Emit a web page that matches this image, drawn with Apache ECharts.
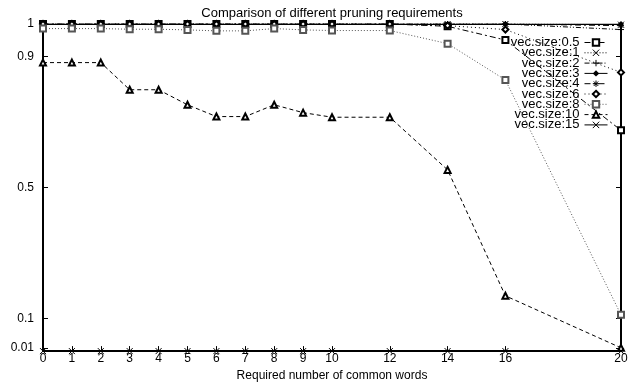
<!DOCTYPE html>
<html>
<head>
<meta charset="utf-8">
<script src="https://cdn.jsdelivr.net/npm/echarts@6/dist/echarts.min.js"></script>
<style>
html,body{margin:0;padding:0;background:#fff;}
#chart{width:631px;height:387px;}
</style>
</head>
<body>
<div id="chart"></div>
<script>
var xValues = [0, 1, 2, 3, 4, 5, 6, 7, 8, 9, 10, 12, 14, 16, 20];
var xTicks = [0, 1, 2, 3, 4, 5, 6, 7, 8, 9, 10, 12, 14, 16, 20];
var yTicks = [0.01, 0.1, 0.5, 0.9, 1];

var names = ['vec.size:0.5', 'vec.size:1', 'vec.size:2', 'vec.size:3', 'vec.size:4', 'vec.size:6', 'vec.size:8', 'vec.size:10', 'vec.size:15'];

var vec05 = [1, 1, 1, 1, 1, 1, 1, 1, 1, 1, 1, 1, 0.993, 0.951, 0.675];
var vec1  = [1, 1, 1, 1, 1, 1, 1, 1, 1, 1, 1, 1, 1, 1, 0.998];
var vec2  = [1, 1, 1, 1, 1, 1, 1, 1, 1, 1, 1, 1, 1, 1, 0.983];
var vec3  = [1, 1, 1, 1, 1, 1, 1, 1, 1, 1, 1, 1, 1, 1, 1];
var vec4  = [1, 1, 1, 1, 1, 1, 1, 1, 1, 1, 1, 1, 1, 1, 0.995];
var vec6  = [1, 1, 1, 1, 1, 1, 1, 1, 1, 1, 1, 1, 0.995, 0.983, 0.852];
var vec8  = [0.986, 0.986, 0.986, 0.984, 0.984, 0.982, 0.979, 0.979, 0.986, 0.982, 0.98, 0.98, 0.94, 0.829, 0.111];
var vec10 = [0.882, 0.882, 0.882, 0.799, 0.799, 0.753, 0.717, 0.717, 0.753, 0.729, 0.715, 0.715, 0.554, 0.169, 0.01];
var vec15 = [0, 0, 0, 0, 0, 0, 0, 0, 0, 0, 0, 0, 0, 0, 0];

var seriesValues = [vec05, vec1, vec2, vec3, vec4, vec6, vec8, vec10, vec15];

var CROSS = 'path://M0,0L10,10M10,0L0,10';
var PLUS = 'path://M5,0L5,10M0,5L10,5';
var STAR = 'path://M5,0L5,10M0,5L10,5M1.5,1.5L8.5,8.5M8.5,1.5L1.5,8.5';

var styles = [
  {symbol: 'emptyRect', size: 6, dash: [6, 3, 2, 3], color: '#000', stroke: false},
  {symbol: CROSS, size: 6, dash: [1, 2], color: '#000', stroke: true},
  {symbol: PLUS, size: 6, dash: [5, 2, 1, 2, 1, 2], color: '#000', stroke: true},
  {symbol: 'diamond', size: 6, dash: 'solid', color: '#000', stroke: false},
  {symbol: STAR, size: 6, dash: [6, 3, 2, 3], color: '#000', stroke: true},
  {symbol: 'emptyDiamond', size: 6, dash: [1, 3], color: '#000', stroke: false},
  {symbol: 'emptyRect', size: 6, dash: [1, 2], color: '#555', stroke: false},
  {symbol: 'emptyTriangle', size: 6, dash: [4, 3], color: '#000', stroke: false},
  {symbol: CROSS, size: 6, dash: 'solid', color: '#000', stroke: true}
];

var series = names.map(function (n, i) {
  var st = styles[i];
  var item = {color: st.color, borderWidth: 1};
  if (st.stroke) { item.borderColor = st.color; }
  return {
    name: n,
    type: 'line',
    data: xValues.map(function (x, j) { return [x, seriesValues[i][j]]; }),
    symbol: st.symbol,
    symbolSize: st.size,
    showSymbol: true,
    showAllSymbol: true,
    lineStyle: {color: st.color, width: 1, type: st.dash},
    itemStyle: item,
    emphasis: {disabled: true},
    z: 2 + i
  };
});

var FONT = '"Liberation Sans", Arial, Helvetica, sans-serif';

var chart = echarts.init(document.getElementById('chart'), null, {renderer: 'canvas'});
chart.setOption({
  animation: false,
  backgroundColor: '#fff',
  textStyle: {fontFamily: FONT, color: '#000'},
  title: {
    text: 'Comparison of different pruning requirements',
    left: 332,
    top: 7,
    padding: 0,
    textAlign: 'center',
    textStyle: {fontFamily: FONT, fontSize: 13, fontWeight: 'normal', color: '#000'}
  },
  legend: {
    orient: 'vertical',
    right: 23,
    top: 36,
    align: 'right',
    itemWidth: 23,
    itemHeight: 8,
    itemGap: -2.7,
    padding: 0,
    lineStyle: {width: 1},
    itemStyle: {borderWidth: 1},
    textStyle: {fontFamily: FONT, fontSize: 13, color: '#000', lineHeight: 10},
    data: names
  },
  grid: {left: 43, right: 10, top: 24, bottom: 27, containLabel: false},
  xAxis: [{
    type: 'value',
    min: 0, max: 20,
    name: 'Required number of common words',
    nameLocation: 'middle',
    nameGap: 14,
    nameTextStyle: {fontFamily: FONT, fontSize: 12, color: '#000'},
    axisLine: {show: true, onZero: false, lineStyle: {color: '#000', width: 2}},
    axisTick: {show: true, inside: true, length: 5, customValues: xTicks, lineStyle: {color: '#000'}},
    axisLabel: {customValues: xTicks, margin: 2, fontFamily: FONT, fontSize: 12, color: '#000'},
    splitLine: {show: false}
  }, {
    type: 'value',
    position: 'top',
    min: 0, max: 20,
    axisLine: {show: true, onZero: false, lineStyle: {color: '#000', width: 1}},
    axisTick: {show: true, inside: true, length: 5, customValues: xTicks, lineStyle: {color: '#000'}},
    axisLabel: {show: false},
    splitLine: {show: false}
  }],
  yAxis: [{
    type: 'value',
    min: 0, max: 1,
    axisLine: {show: true, onZero: false, lineStyle: {color: '#000', width: 2}},
    axisTick: {show: true, inside: true, length: 5, customValues: yTicks, lineStyle: {color: '#000'}},
    axisLabel: {customValues: yTicks, margin: 9, fontFamily: FONT, fontSize: 12, color: '#000'},
    splitLine: {show: false}
  }, {
    type: 'value',
    position: 'right',
    min: 0, max: 1,
    axisLine: {show: true, onZero: false, lineStyle: {color: '#000', width: 2}},
    axisTick: {show: true, inside: true, length: 5, customValues: yTicks, lineStyle: {color: '#000'}},
    axisLabel: {show: false},
    splitLine: {show: false}
  }],
  series: series
});
</script>
</body>
</html>
